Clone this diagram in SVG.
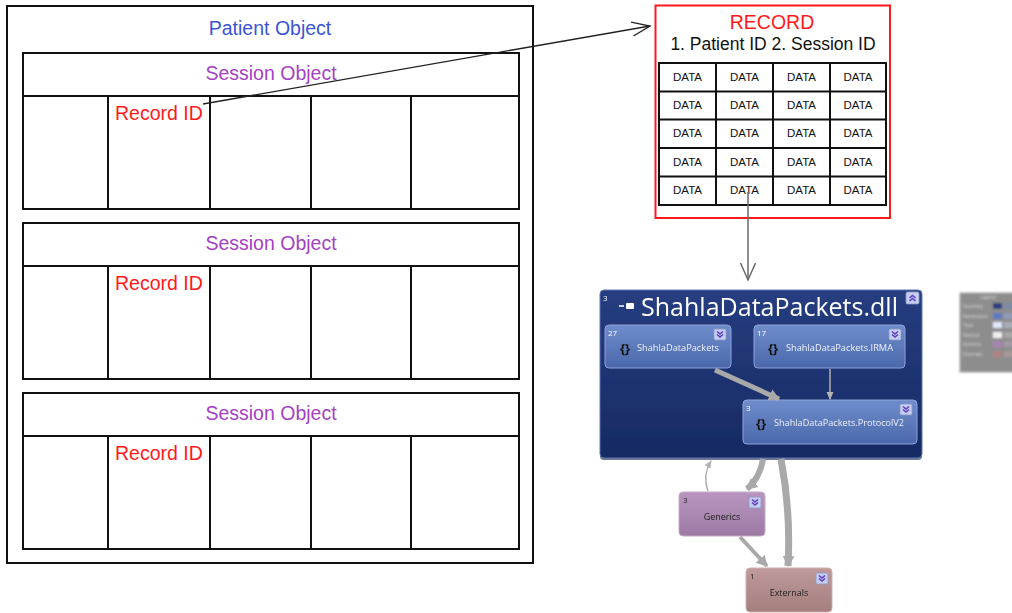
<svg xmlns="http://www.w3.org/2000/svg" width="1012" height="613" viewBox="0 0 1012 613">
  <defs>
    <style>
      .box { fill: none; stroke: #111; stroke-width: 2; }
      .grid { fill: none; stroke: #111; stroke-width: 2; }
      .sans { font-family: "Liberation Sans", Arial, sans-serif; }
      .patient { fill: #3b55d6; font-size: 19.5px; }
      .session { fill: #a441c4; font-size: 19.5px; }
      .recid { fill: #ff1a1a; font-size: 19.5px; }
      .data { fill: #111; font-size: 11.5px; }
      .ui { font-family: "Open Sans", "DejaVu Sans", sans-serif; }
      .count { fill: #ffffff; font-size: 8px; }
      .count-dark { fill: #222; font-size: 8px; }
      .ns-label { fill: #eef1fa; font-size: 9px; }
      .brace { fill: #111; font-size: 13px; font-weight: bold; }
      .node-label { fill: #222; font-size: 9px; }
      .legend-text { fill: #d4d4d4; font-size: 4.5px; }
      .dep { fill: none; stroke: #a9a9a9; }
    </style>
    <marker id="open-head" markerUnits="userSpaceOnUse" markerWidth="20" markerHeight="18" refX="18" refY="8" orient="auto">
      <path d="M0,1 L18,8 L0,15" fill="none" stroke="#222" stroke-width="1.3"/>
    </marker>
    <marker id="open-head-gray" markerUnits="userSpaceOnUse" markerWidth="20" markerHeight="18" refX="17" refY="8" orient="auto">
      <path d="M0,0.5 L17,8 L0,15.5" fill="none" stroke="#6a6a6a" stroke-width="1.5"/>
    </marker>
    <marker id="dep-head" markerUnits="userSpaceOnUse" markerWidth="14" markerHeight="14" refX="10" refY="7" orient="auto">
      <path d="M0,1 L11,7 L0,13 Z" fill="#a9a9a9"/>
    </marker>
    <marker id="dep-head-small" markerUnits="userSpaceOnUse" markerWidth="10" markerHeight="10" refX="7" refY="5" orient="auto">
      <path d="M0,1.5 L8,5 L0,8.5 Z" fill="#b4b4b4"/>
    </marker>
    <linearGradient id="asm-fill" x1="0" y1="0" x2="0" y2="1">
      <stop offset="0" stop-color="#263d80"/>
      <stop offset="1" stop-color="#172a63"/>
    </linearGradient>
    <linearGradient id="ns-fill" x1="0" y1="0" x2="0" y2="1">
      <stop offset="0" stop-color="#6f8dcc"/>
      <stop offset="1" stop-color="#4a68aa"/>
    </linearGradient>
    <linearGradient id="gen-fill" x1="0" y1="0" x2="0" y2="1">
      <stop offset="0" stop-color="#b996bf"/>
      <stop offset="1" stop-color="#9c7aa3"/>
    </linearGradient>
    <linearGradient id="ext-fill" x1="0" y1="0" x2="0" y2="1">
      <stop offset="0" stop-color="#bf9a9a"/>
      <stop offset="1" stop-color="#a57e7e"/>
    </linearGradient>
    <filter id="soft" x="-5%" y="-5%" width="110%" height="110%">
      <feGaussianBlur stdDeviation="0.45"/>
    </filter>
    <filter id="softer" x="-5%" y="-5%" width="110%" height="110%">
      <feGaussianBlur stdDeviation="0.8"/>
    </filter>
    <!-- expand button: light square with a double chevron -->
    <g id="btn-down">
      <rect x="0" y="0" width="12" height="11" rx="1.5" fill="#c6cdef" stroke="#8c98c8" stroke-width="0.8"/>
      <path d="M3,2.5 L6,5 L9,2.5 M3,5.5 L6,8 L9,5.5" fill="none" stroke="#5a3fc0" stroke-width="1.6"/>
    </g>
    <g id="btn-up">
      <rect x="0" y="0" width="13" height="12" rx="1.5" fill="#c6cdef" stroke="#8c98c8" stroke-width="0.8"/>
      <path d="M3.5,6 L6.5,3.5 L9.5,6 M3.5,9 L6.5,6.5 L9.5,9" fill="none" stroke="#5a3fc0" stroke-width="1.6"/>
    </g>
  </defs>

  <rect width="1012" height="613" fill="#ffffff"/>

  <!-- Patient object with its three session objects -->
  <g id="patient-object" class="sans">
    <rect class="box" x="7" y="6" width="526" height="557"/>
    <text class="patient" x="270" y="35" text-anchor="middle">Patient Object</text>
  </g>

  <g id="session-1" class="sans">
    <rect class="box" x="23" y="53" width="496" height="156"/>
    <line class="grid" x1="22" y1="96" x2="519" y2="96"/>
    <path class="grid" d="M108,96 V209 M210,96 V209 M311,96 V209 M411,96 V209"/>
    <text class="session" x="271" y="80" text-anchor="middle">Session Object</text>
    <text class="recid" x="115" y="120">Record ID</text>
  </g>

  <g id="session-2" class="sans">
    <rect class="box" x="23" y="223" width="496" height="156"/>
    <line class="grid" x1="22" y1="266" x2="519" y2="266"/>
    <path class="grid" d="M108,266 V379 M210,266 V379 M311,266 V379 M411,266 V379"/>
    <text class="session" x="271" y="250" text-anchor="middle">Session Object</text>
    <text class="recid" x="115" y="290">Record ID</text>
  </g>

  <g id="session-3" class="sans">
    <rect class="box" x="23" y="393" width="496" height="156"/>
    <line class="grid" x1="22" y1="436" x2="519" y2="436"/>
    <path class="grid" d="M108,436 V549 M210,436 V549 M311,436 V549 M411,436 V549"/>
    <text class="session" x="271" y="420" text-anchor="middle">Session Object</text>
    <text class="recid" x="115" y="460">Record ID</text>
  </g>

  <!-- Record layout -->
  <g id="record" class="sans">
    <rect x="655.5" y="5.5" width="234.5" height="212.5" fill="none" stroke="#ff1a1a" stroke-width="2"/>
    <text x="772" y="29" text-anchor="middle" fill="#ff1a1a" font-size="19.5">RECORD</text>
    <text x="773" y="50" text-anchor="middle" fill="#111" font-size="17.5">1. Patient ID 2. Session ID</text>
    <rect class="grid" x="659" y="63" width="227" height="142"/>
    <path class="grid" d="M716,63 V205 M773,63 V205 M830,63 V205 M659,91.5 H886 M659,119.5 H886 M659,148 H886 M659,176.5 H886"/>
    <g class="data" text-anchor="middle">
      <text x="687.5" y="81">DATA</text><text x="744.5" y="81">DATA</text><text x="801.5" y="81">DATA</text><text x="858" y="81">DATA</text>
      <text x="687.5" y="109">DATA</text><text x="744.5" y="109">DATA</text><text x="801.5" y="109">DATA</text><text x="858" y="109">DATA</text>
      <text x="687.5" y="137">DATA</text><text x="744.5" y="137">DATA</text><text x="801.5" y="137">DATA</text><text x="858" y="137">DATA</text>
      <text x="687.5" y="166">DATA</text><text x="744.5" y="166">DATA</text><text x="801.5" y="166">DATA</text><text x="858" y="166">DATA</text>
      <text x="687.5" y="194">DATA</text><text x="744.5" y="194">DATA</text><text x="801.5" y="194">DATA</text><text x="858" y="194">DATA</text>
    </g>
  </g>

  <!-- Dependency graph of the assembly -->
  <g id="assembly" class="ui" filter="url(#soft)">
    <rect x="600" y="291" width="322" height="169" rx="4" fill="#0e1c44" opacity="0.6"/>
    <rect x="600" y="290" width="322" height="168" rx="4" fill="url(#asm-fill)" stroke="#5d76b4" stroke-width="1"/>
    <text class="count" x="603" y="301" font-size="7">3</text>
    <line x1="619" y1="306" x2="624" y2="306" stroke="#ffffff" stroke-width="1.5"/>
    <rect x="626" y="303" width="8" height="6" rx="1" fill="#ffffff"/>
    <text x="641" y="316" fill="#ffffff" font-size="25.5" textLength="257" lengthAdjust="spacingAndGlyphs">ShahlaDataPackets.dll</text>
    <use href="#btn-up" x="906" y="292"/>
  </g>

  <g id="ns-main" class="ui" filter="url(#soft)">
    <rect x="605" y="325" width="126" height="43" rx="4" fill="url(#ns-fill)" stroke="#8ea3d9" stroke-width="1"/>
    <text class="count" x="608" y="336">27</text>
    <use href="#btn-down" x="714" y="329"/>
    <text class="brace" x="620" y="353">{}</text>
    <text class="ns-label" x="637" y="351" textLength="82" lengthAdjust="spacingAndGlyphs">ShahlaDataPackets</text>
  </g>

  <g id="ns-irma" class="ui" filter="url(#soft)">
    <rect x="754" y="325" width="151" height="43" rx="4" fill="url(#ns-fill)" stroke="#8ea3d9" stroke-width="1"/>
    <text class="count" x="757" y="336">17</text>
    <use href="#btn-down" x="889" y="329"/>
    <text class="brace" x="768" y="353">{}</text>
    <text class="ns-label" x="786" y="351" textLength="107" lengthAdjust="spacingAndGlyphs">ShahlaDataPackets.IRMA</text>
  </g>

  <g id="ns-protocol" class="ui" filter="url(#soft)">
    <rect x="743" y="400" width="174" height="44" rx="4" fill="url(#ns-fill)" stroke="#8ea3d9" stroke-width="1"/>
    <text class="count" x="746" y="411">3</text>
    <use href="#btn-down" x="900" y="404"/>
    <text class="brace" x="756" y="428">{}</text>
    <text class="ns-label" x="774" y="426" textLength="130" lengthAdjust="spacingAndGlyphs">ShahlaDataPackets.ProtocolV2</text>
  </g>

  <g id="generics" class="ui" filter="url(#soft)">
    <rect x="679" y="492" width="86" height="44" rx="4" fill="url(#gen-fill)" stroke="#c6aacb" stroke-width="1"/>
    <text class="count-dark" x="683" y="503">3</text>
    <use href="#btn-down" x="749" y="497"/>
    <text class="node-label" x="722" y="520" text-anchor="middle">Generics</text>
  </g>

  <g id="externals" class="ui" filter="url(#soft)">
    <rect x="746" y="568" width="86" height="44" rx="4" fill="url(#ext-fill)" stroke="#cfb0b0" stroke-width="1"/>
    <text class="count-dark" x="750" y="579">1</text>
    <use href="#btn-down" x="816" y="573"/>
    <text class="node-label" x="789" y="596" text-anchor="middle">Externals</text>
  </g>

  <!-- Legend panel -->
  <g id="legend" class="ui" filter="url(#softer)">
    <rect x="960" y="293" width="60" height="79" fill="#8d8d8d" stroke="#a6a6a6" stroke-width="1"/>
    <text class="legend-text" x="988" y="299" text-anchor="middle">Legend</text>
    <text class="legend-text" x="963" y="308">Assembly</text>
    <text class="legend-text" x="963" y="318">Namespace</text>
    <text class="legend-text" x="963" y="327">Type</text>
    <text class="legend-text" x="963" y="337">Method</text>
    <text class="legend-text" x="963" y="346">Generics</text>
    <text class="legend-text" x="963" y="356">Externals</text>
    <rect x="993" y="303" width="9" height="6" fill="#2b3f80"/>
    <rect x="993" y="313" width="9" height="6" fill="#5c79c2"/>
    <rect x="993" y="322" width="9" height="6" fill="#dfe7fa"/>
    <rect x="993" y="332" width="9" height="6" fill="#efefef"/>
    <rect x="993" y="341" width="9" height="6" fill="#a683b2"/>
    <rect x="993" y="351" width="9" height="6" fill="#b08282"/>
    <rect x="1004" y="303" width="9" height="6" fill="#7d8aa8"/>
    <rect x="1004" y="313" width="9" height="6" fill="#8f9ab8"/>
    <rect x="1004" y="322" width="9" height="6" fill="#a8adb8"/>
    <rect x="1004" y="332" width="9" height="6" fill="#a8a8a8"/>
    <rect x="1004" y="341" width="9" height="6" fill="#a398a8"/>
    <rect x="1004" y="351" width="9" height="6" fill="#a69898"/>
  </g>

  <!-- Connectors -->
  <g id="connectors">
    <line x1="203" y1="104" x2="650" y2="26" stroke="#222" stroke-width="1.3" marker-end="url(#open-head)"/>
    <line x1="748" y1="192" x2="748" y2="280" stroke="#6a6a6a" stroke-width="1.5" marker-end="url(#open-head-gray)"/>
    <g filter="url(#soft)">
      <line class="dep" x1="715" y1="370" x2="779" y2="399" stroke-width="5" marker-end="url(#dep-head)"/>
      <line class="dep" x1="830" y1="369" x2="830" y2="399" stroke-width="1.6" stroke="#b4b4b4" marker-end="url(#dep-head-small)"/>
      <path class="dep" d="M763,459 Q760,478 747,489" stroke-width="6" marker-end="url(#dep-head)"/>
      <path class="dep" d="M708,491 Q702,476 711,461" stroke-width="1.4" stroke="#c4c4c4" marker-end="url(#dep-head-small)"/>
      <path class="dep" d="M781,459 Q791,512 788,566" stroke-width="7" marker-end="url(#dep-head)"/>
      <line class="dep" x1="740" y1="537" x2="767" y2="566" stroke-width="4" marker-end="url(#dep-head)"/>
    </g>
  </g>
</svg>
